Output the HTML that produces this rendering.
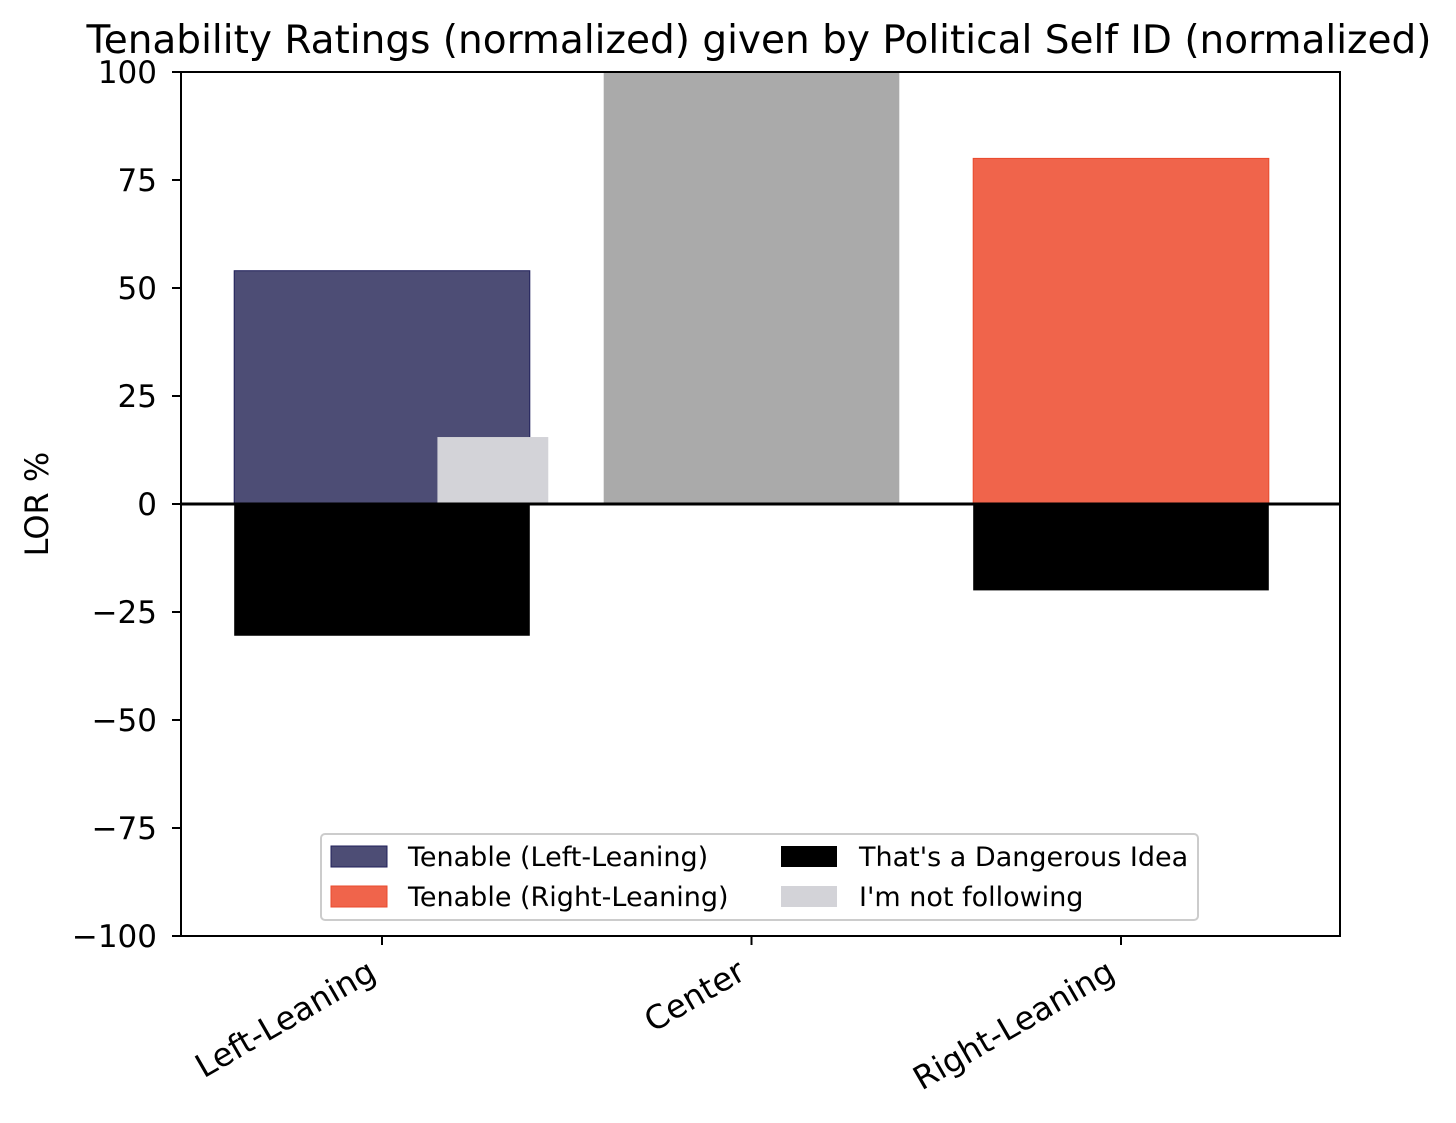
<!DOCTYPE html>
<html><head><meta charset="utf-8"><style>
html,body{margin:0;padding:0;background:#fff;}
svg{display:block;font-family:"DejaVu Sans","Liberation Sans",sans-serif;}
</style></head><body>
<svg id="chart" width="1456" height="1123" viewBox="0 0 1456 1123" xmlns="http://www.w3.org/2000/svg">
<text x="759" y="53" font-size="39" text-anchor="middle" fill="#000">Tenability Ratings (normalized) given by Political Self ID (normalized)</text>
<g id="bars"></g>
<g id="yaxis"></g>
<g id="xaxis"></g>
<rect x="181" y="72" width="1159" height="864" fill="none" stroke="#000" stroke-width="2"/>
<text transform="translate(48,504) rotate(-90)" font-size="32" text-anchor="middle">LOR %</text>
<g>
<rect x="321" y="834" width="877" height="86" rx="4" fill="#fff" stroke="#ccc" stroke-width="2"/>
<rect x="331" y="846" width="56" height="21" fill="#4d4d75" stroke="#1f1f5a"/>
<text x="408" y="866" font-size="27">Tenable (Left-Leaning)</text>
<rect x="331" y="886" width="56" height="21" fill="#f0644b" stroke="#e94a2e"/>
<text x="408" y="906" font-size="27">Tenable (Right-Leaning)</text>
<rect x="781" y="846" width="56" height="21" fill="#000"/>
<text x="859" y="866" font-size="27">That's a Dangerous Idea</text>
<rect x="781" y="886" width="56" height="21" fill="#d3d3d8"/>
<text x="859" y="906" font-size="27">I'm not following</text>
</g>
</svg>
<script>
const categories=["Left-Leaning","Center","Right-Leaning"];
const tenable=[54,100,80];
const dangerous=[-30.5,0,-20];
const notFollowing=[15.5,0,0];
const yTicks=[100,75,50,25,0,-25,-50,-75,-100];
const NS="http://www.w3.org/2000/svg";
const x0=382,step=369.5,y0=504,k=4.32;
const X=i=>x0+i*step;
const Y=v=>y0-v*k;
const fills=["#4d4d75","#aaaaaa","#f0644b"];
const strokes=["#1f1f5a","none","#e94a2e"];
const bars=document.getElementById('bars');
function rect(x,y,w,h,fill,stroke){const r=document.createElementNS(NS,'rect');r.setAttribute('x',x);r.setAttribute('y',y);r.setAttribute('width',w);r.setAttribute('height',Math.max(0,h));r.setAttribute('fill',fill);if(stroke&&stroke!=='none'){r.setAttribute('stroke',stroke);r.setAttribute('stroke-width','1');}bars.appendChild(r);return r;}
const bw=0.8*step;
categories.forEach((c,i)=>{
 const v=Math.min(tenable[i],100);
 const r=rect(X(i)-bw/2,Y(v),bw,Y(0)-Y(v),fills[i],strokes[i]);
 
 
 const d=rect(X(i)-bw/2,Y(0),bw,Y(dangerous[i])-Y(0),'#000');
 
 
 if(notFollowing[i]>0){
  const n=rect(X(i+0.15),Y(notFollowing[i]),0.3*step,Y(0)-Y(notFollowing[i]),'#d3d3d8');
  
  
 }
});
const zl=document.createElementNS(NS,'line');
zl.setAttribute('x1',181);zl.setAttribute('x2',1340);zl.setAttribute('y1',Y(0));zl.setAttribute('y2',Y(0));zl.setAttribute('stroke','#000');zl.setAttribute('stroke-width','3');


bars.appendChild(zl);
const ya=document.getElementById('yaxis');
yTicks.forEach(t=>{
 const l=document.createElementNS(NS,'line');l.setAttribute('x1',172);l.setAttribute('x2',181);l.setAttribute('y1',Y(t));l.setAttribute('y2',Y(t));l.setAttribute('stroke','#000');l.setAttribute('stroke-width','2');
 
 
 ya.appendChild(l);
 const tx=document.createElementNS(NS,'text');tx.setAttribute('x',157);tx.setAttribute('y',Y(t)+11);tx.setAttribute('font-size','31');tx.setAttribute('text-anchor','end');
 tx.textContent=(t<0?'\u2212':'')+Math.abs(t);
 
 
 ya.appendChild(tx);
});
const xa=document.getElementById('xaxis');
categories.forEach((c,i)=>{
 const l=document.createElementNS(NS,'line');l.setAttribute('x1',X(i));l.setAttribute('x2',X(i));l.setAttribute('y1',936);l.setAttribute('y2',945);l.setAttribute('stroke','#000');l.setAttribute('stroke-width','2');
 
 
 xa.appendChild(l);
 const tx=document.createElementNS(NS,'text');
 tx.setAttribute('transform','translate('+(X(i)-4)+',978) rotate(-30)');
 tx.setAttribute('font-size','32.5');tx.setAttribute('text-anchor','end');
 tx.textContent=c;
 
 
 xa.appendChild(tx);
});
</script>
</body></html>
